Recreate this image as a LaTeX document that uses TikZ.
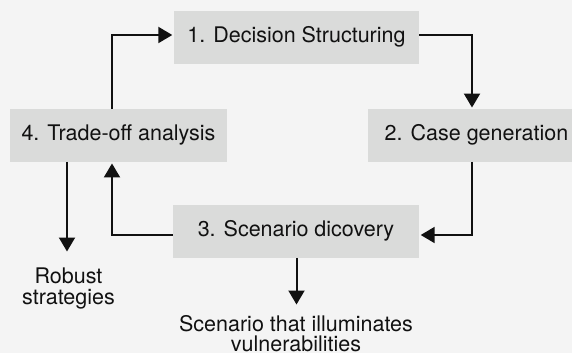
\documentclass[tikz,border=0pt]{standalone}
\usepackage{fontspec}
\setmainfont{TeX Gyre Heros}
\usetikzlibrary{arrows.meta}
\definecolor{bgc}{HTML}{F4F4F4}
\definecolor{boxc}{HTML}{DADBDA}
\definecolor{inkc}{HTML}{111111}
\begin{document}
\begin{tikzpicture}[x=1pt,y=-1pt,
  every node/.style={font=\fontsize{21.5}{20.7}\selectfont, text=inkc},
  stepbox/.style={fill=boxc, inner sep=0pt, minimum height=52.5pt, text height=15.4pt, text depth=4.5pt},
  lbl/.style={inner sep=0pt, align=center, anchor=north},
  arr/.style={draw=inkc, line width=2pt, -{Triangle[length=14pt,width=16pt]}, shorten >=1.5pt}]
\fill[bgc] (0,0) rectangle (572,353);
\useasboundingbox (0,0) rectangle (572,353);
\node[stepbox, minimum width=245pt] (b1) at (296.5,37.5) {1. Decision Structuring};
\node[stepbox, minimum width=217pt] (b2) at (476.5,135.5) {2. Case generation};
\node[stepbox, minimum width=246pt] (b3) at (296,231.5) {3. Scenario dicovery};
\node[stepbox, minimum width=217pt] (b4) at (118.5,135.5) {4. Trade-off analysis};
\node[lbl] (rob) at (68.5,267.6) {Robust\\strategies};
\node[lbl] (scn) at (296,315) {Scenario that illuminates\\vulnerabilities};
\coordinate (c1) at (112,35);
\coordinate (c2) at (472,35);
\coordinate (c3) at (472,235);
\coordinate (c4) at (112,235);
\coordinate (c5) at (67,251.5);
\coordinate (c6) at (296.5,304.5);
\draw[arr] (b4.north -| c1) |- (b1.west |- c1);
\draw[arr] (b1.east |- c2) -| (b2.north -| c2);
\draw[arr] (b2.south -| c3) |- (b3.east |- c3);
\draw[arr] (b3.west |- c4) -| (b4.south -| c4);
\draw[arr, shorten >=0pt] (b4.south -| c5) -- (c5);
\draw[arr, shorten >=0pt] (b3.south -| c6) -- (c6);
\end{tikzpicture}
\end{document}
